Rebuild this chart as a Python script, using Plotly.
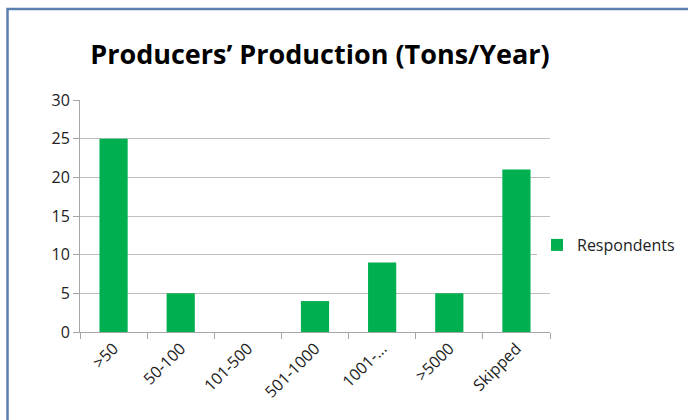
import plotly.graph_objects as go

categories = [">50", "50-100", "101-500", "501-1000", "1001-...", ">5000", "Skipped"]
respondents = [25, 5, 0, 4, 9, 5, 21]
y_ticks = [0, 5, 10, 15, 20, 25, 30]

W, H = 688, 420
# plot area in page coordinates: x 80..550, y 100..332
L, T = 80, 100
R = W - 550
B = H - 332
pw = W - L - R
ph = H - T - B

def px_x(x):
    return (x - L) / pw

def px_y(y):
    return 1 - (y - T) / ph

fig = go.Figure()
fig.add_trace(go.Bar(
    x=categories, y=respondents, name="Respondents",
    marker=dict(color="#00B050", line=dict(width=0)),
))

fig.update_layout(
    width=W, height=H,
    margin=dict(l=L, r=R, t=T, b=B, autoexpand=False),
    paper_bgcolor="white", plot_bgcolor="white",
    bargap=0.58,
    showlegend=True,
    legend=dict(x=px_x(537), y=px_y(245), xanchor="left", yanchor="middle",
                font=dict(family="Open Sans", size=16, color="#222"),
                itemwidth=30),
    title=dict(text="<b>Producers’ Production (Tons/Year)</b>",
               x=320 / W, xanchor="center", y=1 - 55 / H, yanchor="middle",
               font=dict(family="Open Sans", size=27, color="black")),
    xaxis=dict(showline=True, linecolor="#A6A6A6", linewidth=1,
               ticks="outside", ticklen=6, tickcolor="#A6A6A6",
               tickson="boundaries", tickangle=-45, automargin=False,
               tickfont=dict(family="Open Sans", size=16, color="#222")),
    yaxis=dict(range=[0, 30], tickvals=y_ticks, showline=True,
               linecolor="#A6A6A6", linewidth=1, automargin=False,
               ticks="outside", ticklen=6, tickcolor="#A6A6A6",
               showgrid=True, gridcolor="#BFBFBF", gridwidth=1,
               zeroline=False,
               tickfont=dict(family="Open Sans", size=16, color="#222")),
    shapes=[dict(type="rect", xref="paper", yref="paper",
                 x0=px_x(7.5), x1=px_x(720), y0=px_y(9), y1=px_y(450),
                 line=dict(color="#5B7FAE", width=2.5), fillcolor="rgba(0,0,0,0)",
                 layer="below")],
)

fig.write_html("out.html", config={"displayModeBar": False},
               post_script="document.body.style.margin='0';document.body.style.overflow='hidden';")
